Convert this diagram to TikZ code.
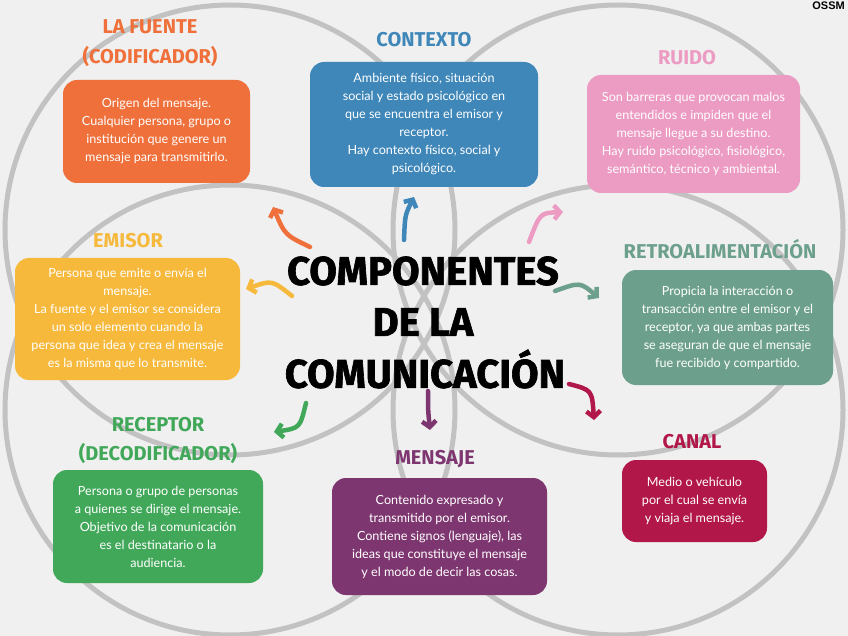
\documentclass[tikz,border=0pt]{standalone}
\usepackage{fontspec}
\setmainfont{Lato}
\newfontfamily\headfont{Fira Sans}
\newfontfamily\bigfont{Fira Sans}[BoldFeatures={FakeBold=1.6}]
\newfontfamily\markfont{Liberation Sans}
\usetikzlibrary{arrows.meta}
\definecolor{bgc}{HTML}{F0F0F0}
\definecolor{ringc}{HTML}{C2C2C2}
\definecolor{cOrange}{HTML}{EF703A}
\definecolor{cBlue}{HTML}{3F87B9}
\definecolor{cPink}{HTML}{EC9BC3}
\definecolor{cYellow}{HTML}{F6B93C}
\definecolor{cTeal}{HTML}{6DA08C}
\definecolor{cGreen}{HTML}{41A85A}
\definecolor{cPurple}{HTML}{7E3670}
\definecolor{cCrimson}{HTML}{B21749}
\tikzset{
  ring/.style={draw=ringc, line width=5pt},
  infobox/.style={rounded corners=14pt, text=white, align=center, inner sep=0pt,
    font=\fontsize{12.6}{18}\selectfont},
  sectitle/.style={font=\headfont\bfseries\fontsize{20}{22}\selectfont, inner sep=0pt, anchor=center},
  maintitle/.style={font=\bigfont\bfseries\fontsize{40}{44}\selectfont, inner sep=0pt, text=black},
  arr/.style={line width=4.5pt, line cap=round, -{Straight Barb[length=6pt,width=14pt]}},
}
\begin{document}
\begin{tikzpicture}[x=1pt,y=-1pt]
\useasboundingbox (0,0) rectangle (848,636);
\fill[bgc] (0,0) rectangle (848,636);
% background rings
\begin{scope}
\clip (0,0) rectangle (848,636);
\draw[ring] (230,230) circle[radius=225];
\draw[ring] (618,230) circle[radius=225];
\draw[ring] (230,410) circle[radius=225];
\draw[ring] (618,410) circle[radius=225];
\end{scope}
% arrows
\coordinate (oS) at (310,247); \coordinate (oE) at (273,207);
\coordinate (yS) at (292,296); \coordinate (yE) at (246,289);
\coordinate (bS) at (404,240); \coordinate (bE) at (414,197);
\coordinate (pS) at (529,242); \coordinate (pE) at (563,212);
\coordinate (tS) at (555,291); \coordinate (tE) at (599,298);
\coordinate (cS) at (569,384); \coordinate (cE) at (594,420);
\coordinate (mS) at (428,391); \coordinate (mE) at (430,430);
\coordinate (gS) at (306,403); \coordinate (gE) at (274,432);
\draw[arr, cOrange] (oS) .. controls (285,235) .. (oE);
\draw[arr, cYellow] (yS) .. controls (272,280) .. (yE);
\draw[arr, cBlue] (bS) .. controls (405,215) .. (bE);
\draw[arr, cPink] (pS) .. controls (540,213) .. (pE);
\draw[arr, cTeal] (tS) .. controls (580,282) .. (tE);
\draw[arr, cCrimson] (cS) .. controls (592,390) .. (cE);
\draw[arr, cPurple] (mS) .. controls (428,410) .. (mE);
\draw[arr, cGreen] (gS) .. controls (300,428) .. (gE);
% boxes
\node[infobox, fill=cOrange, minimum width=187pt, minimum height=103pt] (fuente) at (156.5,131.5)
  {Origen del mensaje.\\Cualquier persona, grupo o\\institución que genere un\\mensaje para transmitirlo.};
\node[infobox, fill=cBlue, minimum width=228pt, minimum height=125pt] (contexto) at (424,124.5)
  {Ambiente físico, situación\\social y estado psicológico en\\que se encuentra el emisor y\\receptor.\\Hay contexto físico, social y\\psicológico.};
\node[infobox, fill=cPink, minimum width=213pt, minimum height=118pt] (ruido) at (693.5,134)
  {Son barreras que provocan malos\\entendidos e impiden que el\\mensaje llegue a su destino.\\Hay ruido psicológico, fisiológico,\\semántico, técnico y ambiental.};
\node[infobox, fill=cYellow, minimum width=225pt, minimum height=122pt] (emisor) at (127.5,319)
  {Persona que emite o envía el\\mensaje.\\La fuente y el emisor se considera\\un solo elemento cuando la\\persona que idea y crea el mensaje\\es la misma que lo transmite.};
\node[infobox, fill=cTeal, minimum width=211pt, minimum height=115pt] (retro) at (727.5,327.5)
  {Propicia la interacción o\\transacción entre el emisor y el\\receptor, ya que ambas partes\\se aseguran de que el mensaje\\fue recibido y compartido.};
\node[infobox, fill=cGreen, minimum width=210pt, minimum height=113pt] (receptor) at (158,526.5)
  {Persona o grupo de personas\\a quienes se dirige el mensaje.\\Objetivo de la comunicación\\es el destinatario o la\\audiencia.};
\node[infobox, fill=cPurple, minimum width=215pt, minimum height=117pt] (mensaje) at (439.5,536.5)
  {Contenido expresado y\\transmitido por el emisor.\\Contiene signos (lenguaje), las\\ideas que constituye el mensaje\\y el modo de decir las cosas.};
\node[infobox, fill=cCrimson, minimum width=145pt, minimum height=82pt] (canal) at (694.5,501)
  {Medio o vehículo\\por el cual se envía\\y viaja el mensaje.};
% section titles
\node[sectitle, text=cOrange] (tfuente1) at (150,27) {LA FUENTE};
\node[sectitle, text=cOrange] (tfuente2) at (150,57) {(CODIFICADOR)};
\node[sectitle, text=cBlue] (tcontexto) at (424,40) {CONTEXTO};
\node[sectitle, text=cPink] (truido) at (687,58) {RUIDO};
\node[sectitle, text=cYellow] (temisor) at (128,241) {EMISOR};
\node[sectitle, text=cTeal] (tretro) at (720,249) {RETROALIMENTACIÓN};
\node[sectitle, text=cGreen] (treceptor1) at (158,425) {RECEPTOR};
\node[sectitle, text=cGreen] (treceptor2) at (158,453) {(DECODIFICADOR)};
\node[sectitle, text=cPurple] (tmensaje) at (435,459) {MENSAJE};
\node[sectitle, text=cCrimson] (tcanal) at (692,442) {CANAL};
% main title
\node[maintitle] (main1) at (423,271) {COMPONENTES};
\node[maintitle] (main2) at (423,322) {DE LA};
\node[maintitle] (main3) at (425,369) {COMUNICACIÓN};
% brand
\node[font=\markfont\bfseries\fontsize{11}{12}\selectfont, anchor=north east, inner sep=0pt] (brand) at (845,2) {OSSM};
\end{tikzpicture}
\end{document}
